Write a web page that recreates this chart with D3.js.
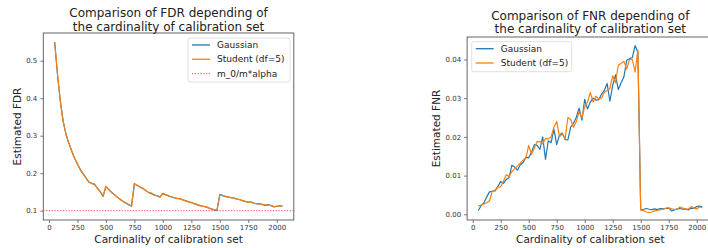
<!DOCTYPE html>
<html>
<head>
<meta charset="utf-8">
<script src="https://cdn.jsdelivr.net/npm/d3@7"></script>
<style>
  body { margin: 0; background: #fff; }
  svg { display: block; font-family: "DejaVu Sans", sans-serif; }
</style>
</head>
<body>
<div id="container"></div>
<script>
// calibration set sizes
var card = [50, 75, 100, 125, 150, 175, 200, 225, 250, 275, 300, 325, 350, 375, 400, 425, 450, 475,
  500, 525, 550, 575, 600, 625, 650, 675, 700, 725, 750, 775, 800, 825, 850, 875, 900, 925, 950, 975,
  1000, 1025, 1050, 1075, 1100, 1125, 1150, 1175, 1200, 1225, 1250, 1275, 1300, 1325, 1350, 1375,
  1400, 1425, 1450, 1475, 1500, 1525, 1550, 1575, 1600, 1625, 1650, 1675, 1700, 1725, 1750, 1775,
  1800, 1825, 1850, 1875, 1900, 1925, 1950, 1975, 2000, 2025, 2050];

var fdrGauss = [0.550, 0.462, 0.390, 0.338, 0.302, 0.280, 0.258, 0.240, 0.224, 0.210, 0.198, 0.187,
  0.176, 0.173, 0.170, 0.160, 0.150, 0.138, 0.165, 0.156, 0.149, 0.142, 0.136, 0.130, 0.125, 0.120,
  0.116, 0.112, 0.172, 0.167, 0.163, 0.159, 0.154, 0.148, 0.145, 0.142, 0.139, 0.136, 0.146, 0.142,
  0.139, 0.137, 0.134, 0.133, 0.131, 0.129, 0.126, 0.124, 0.121, 0.119, 0.116, 0.113, 0.112, 0.110,
  0.107, 0.105, 0.102, 0.100, 0.143, 0.140, 0.138, 0.136, 0.135, 0.133, 0.131, 0.129, 0.127, 0.124,
  0.123, 0.123, 0.120, 0.118, 0.118, 0.116, 0.114, 0.116, 0.113, 0.110, 0.111, 0.113, 0.112];
var fdrStudent = [0.548, 0.464, 0.392, 0.336, 0.304, 0.279, 0.260, 0.239, 0.226, 0.209, 0.199, 0.186,
  0.177, 0.172, 0.171, 0.159, 0.151, 0.139, 0.164, 0.157, 0.148, 0.143, 0.135, 0.131, 0.124, 0.121,
  0.115, 0.113, 0.171, 0.168, 0.162, 0.160, 0.153, 0.149, 0.147, 0.141, 0.140, 0.137, 0.145, 0.143,
  0.140, 0.136, 0.135, 0.132, 0.132, 0.128, 0.127, 0.123, 0.122, 0.118, 0.117, 0.114, 0.111, 0.111,
  0.108, 0.104, 0.103, 0.101, 0.141, 0.141, 0.137, 0.137, 0.134, 0.134, 0.130, 0.130, 0.126, 0.125,
  0.122, 0.124, 0.119, 0.119, 0.117, 0.117, 0.115, 0.115, 0.114, 0.111, 0.112, 0.112, 0.113];
var fdrTarget = 0.1;

var fnrGauss = [0.0010, 0.0022, 0.0030, 0.0045, 0.0058, 0.0059, 0.0062, 0.0072, 0.0085, 0.0080,
  0.0090, 0.0095, 0.0127, 0.0122, 0.0114, 0.0128, 0.0134, 0.0147, 0.0146, 0.0160, 0.0180, 0.0178,
  0.0168, 0.0200, 0.0142, 0.0190, 0.0185, 0.0220, 0.0180, 0.0205, 0.0210, 0.0193, 0.0192, 0.0225,
  0.0235, 0.0250, 0.0274, 0.0243, 0.0297, 0.0272, 0.0290, 0.0300, 0.0295, 0.0296, 0.0310, 0.0320,
  0.0338, 0.0292, 0.0333, 0.0360, 0.0322, 0.0340, 0.0355, 0.0398, 0.0402, 0.0405, 0.0436, 0.0418,
  0.0012, 0.0013, 0.0015, 0.0013, 0.0012, 0.0014, 0.0012, 0.0015, 0.0014, 0.0015, 0.0016, 0.0009,
  0.0011, 0.0014, 0.0015, 0.0013, 0.0014, 0.0011, 0.0016, 0.0015, 0.0020, 0.0021, 0.0019];
var fnrStudent = [0.0021, 0.0024, 0.0027, 0.0030, 0.0035, 0.0060, 0.0060, 0.0070, 0.0071, 0.0086,
  0.0102, 0.0098, 0.0110, 0.0118, 0.0125, 0.0132, 0.0140, 0.0145, 0.0178, 0.0155, 0.0170, 0.0188,
  0.0188, 0.0182, 0.0196, 0.0195, 0.0200, 0.0225, 0.0240, 0.0200, 0.0208, 0.0195, 0.0250, 0.0245,
  0.0225, 0.0240, 0.0265, 0.0250, 0.0278, 0.0290, 0.0315, 0.0290, 0.0305, 0.0298, 0.0300, 0.0315,
  0.0320, 0.0325, 0.0358, 0.0340, 0.0385, 0.0390, 0.0395, 0.0375, 0.0400, 0.0400, 0.0367, 0.0425,
  0.0011, 0.0010, 0.0006, 0.0005, 0.0006, 0.0009, 0.0010, 0.0012, 0.0013, 0.0016, 0.0017, 0.0014,
  0.0013, 0.0012, 0.0019, 0.0016, 0.0014, 0.0013, 0.0020, 0.0016, 0.0014, 0.0019, 0.0017];

var xTicks = [0, 250, 500, 750, 1000, 1250, 1500, 1750, 2000];
var fdrTicks = [0.1, 0.2, 0.3, 0.4, 0.5];
var fnrTicks = [0.00, 0.01, 0.02, 0.03, 0.04];

var blue = "#1f77b4", orange = "#ff7f0e";

var svg = d3.select("#container")
  .append("svg")
    .attr("width", 708)
    .attr("height", 248);

function drawPanel(opt) {
  var x = d3.scaleLinear().domain([-50, 2150]).range([opt.left, opt.right]);
  var y = d3.scaleLinear().domain(opt.yDomain).range([opt.bottom, opt.top]);
  var g = svg.append("g");

  var clipId = "clip" + opt.id;
  g.append("clipPath").attr("id", clipId)
    .append("rect")
      .attr("x", opt.left).attr("y", opt.top)
      .attr("width", opt.right - opt.left).attr("height", opt.bottom - opt.top);

  var plot = g.append("g").attr("clip-path", "url(#" + clipId + ")");

  if (opt.target !== undefined) {
    plot.append("line")
      .attr("x1", opt.left).attr("x2", opt.right)
      .attr("y1", y(opt.target)).attr("y2", y(opt.target))
      .style("stroke", "#ff3030")
      .style("stroke-width", 1.1)
      .style("stroke-dasharray", "1.2,1.6")
      .style("opacity", 0.75);
  }

  var line = d3.line()
    .x(function(d) { return x(d[0]); })
    .y(function(d) { return y(d[1]); });

  plot.append("path")
    .datum(card.map(function(c, i) { return [c, opt.gauss[i]]; }))
    .attr("d", line)
    .style("fill", "none").style("stroke", blue).style("stroke-width", 1.2)
    .style("stroke-linejoin", "round");
  plot.append("path")
    .datum(card.map(function(c, i) { return [c, opt.student[i]]; }))
    .attr("d", line)
    .style("fill", "none").style("stroke", orange).style("stroke-width", 1.2)
    .style("stroke-linejoin", "round");

  // axes
  var xAxis = g.append("g")
    .attr("transform", "translate(0," + opt.bottom + ")")
    .call(d3.axisBottom(x).tickValues(xTicks).tickSize(3).tickPadding(2).tickFormat(d3.format("d")));
  var yAxis = g.append("g")
    .attr("transform", "translate(" + opt.left + ",0)")
    .call(d3.axisLeft(y).tickValues(opt.yTicks).tickSize(3).tickPadding(3).tickFormat(d3.format(opt.yFormat)));
  [xAxis, yAxis].forEach(function(a) {
    a.select(".domain").remove();
    a.selectAll(".tick line").style("stroke", "#444").style("stroke-width", 0.7);
    a.selectAll(".tick text").style("font-size", "7px").style("fill", "#333")
      .style("font-family", "DejaVu Sans");
  });

  // frame
  g.append("rect")
    .attr("x", opt.left).attr("y", opt.top)
    .attr("width", opt.right - opt.left).attr("height", opt.bottom - opt.top)
    .style("fill", "none").style("stroke", "#555").style("stroke-width", 0.9);

  var cx = (opt.left + opt.right) / 2;
  g.append("text")
    .attr("x", cx).attr("y", opt.titleY)
    .attr("text-anchor", "middle")
    .style("font-size", "12px").style("fill", "#222")
    .text(opt.title[0]);
  g.append("text")
    .attr("x", cx).attr("y", opt.titleY + 13.8)
    .attr("text-anchor", "middle")
    .style("font-size", "12px").style("fill", "#222")
    .text(opt.title[1]);

  g.append("text")
    .attr("x", cx).attr("y", 243)
    .attr("text-anchor", "middle")
    .style("font-size", "10.5px").style("fill", "#222")
    .text("Cardinality of calibration set");

  g.append("text")
    .attr("transform", "translate(" + opt.yLabelX + "," + ((opt.top + opt.bottom) / 2) + ") rotate(-90)")
    .attr("text-anchor", "middle")
    .style("font-size", "10.5px").style("fill", "#222")
    .text(opt.yLabel);

  // legend
  var lg = g.append("g").attr("transform", "translate(" + opt.legend.x + "," + opt.legend.y + ")");
  lg.append("rect")
    .attr("width", opt.legend.w).attr("height", opt.legend.h)
    .attr("rx", 2)
    .style("fill", "#fff").style("fill-opacity", 0.85)
    .style("stroke", "#d8d8d8").style("stroke-width", 0.8);
  opt.legend.items.forEach(function(it, i) {
    var yy = 7 + i * 14.3;
    lg.append("line")
      .attr("x1", 4).attr("x2", 22).attr("y1", yy).attr("y2", yy)
      .style("stroke", it.color)
      .style("stroke-width", it.dash ? 1.1 : 1.3)
      .style("stroke-dasharray", it.dash ? "1.2,1.6" : null)
      .style("opacity", it.dash ? 0.75 : 1);
    lg.append("text")
      .attr("x", 29).attr("y", yy).attr("dy", "0.35em")
      .style("font-size", "9px").style("fill", "#222")
      .text(it.label);
  });
}

drawPanel({
  id: "fdr", left: 43.3, right: 293.8, top: 33, bottom: 220,
  yDomain: [0.075, 0.574], yTicks: fdrTicks, yFormat: ".1f",
  gauss: fdrGauss, student: fdrStudent, target: fdrTarget,
  title: ["Comparison of FDR depending of", "the cardinality of calibration set"], titleY: 17,
  yLabel: "Estimated FDR", yLabelX: 21,
  legend: { x: 188, y: 38, w: 102, h: 44, items: [
    { label: "Gaussian", color: blue },
    { label: "Student (df=5)", color: orange },
    { label: "m_0/m*alpha", color: "#ff3030", dash: true }
  ] }
});

drawPanel({
  id: "fnr", left: 467.1, right: 713.5, top: 37, bottom: 220,
  yDomain: [-0.00147, 0.0458], yTicks: fnrTicks, yFormat: ".2f",
  gauss: fnrGauss, student: fnrStudent,
  title: ["Comparison of FNR depending of", "the cardinality of calibration set"], titleY: 19.5,
  yLabel: "Estimated FNR", yLabelX: 440,
  legend: { x: 471.7, y: 41.7, w: 100, h: 30, items: [
    { label: "Gaussian", color: blue },
    { label: "Student (df=5)", color: orange }
  ] }
});
</script>
</body>
</html>
